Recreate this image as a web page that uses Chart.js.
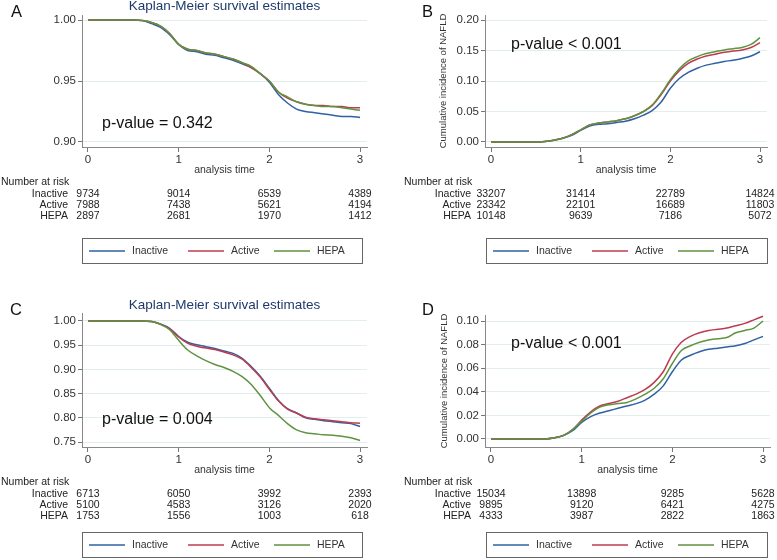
<!DOCTYPE html>
<html>
<head>
<meta charset="utf-8">
<script src="https://cdn.jsdelivr.net/npm/chart.js@4.4.0/dist/chart.umd.min.js"></script>
<style>
  html, body { margin: 0; padding: 0; background: #fff; }
  #wrap { position: relative; width: 777px; height: 560px; }
  canvas { position: absolute; }
</style>
</head>
<body>
<div id="wrap">
  <canvas id="panelA" width="388" height="280" style="left:0;top:0"></canvas>
  <canvas id="panelB" width="389" height="280" style="left:388px;top:0"></canvas>
  <canvas id="panelC" width="388" height="280" style="left:0;top:280px"></canvas>
  <canvas id="panelD" width="389" height="280" style="left:388px;top:280px"></canvas>
</div>
<script>
const TIMES = [0, 0.1, 0.2, 0.3, 0.4, 0.5, 0.6, 0.7, 0.8, 0.9, 1.0, 1.1, 1.2, 1.3, 1.4, 1.5,
  1.6, 1.7, 1.8, 1.9, 2.0, 2.1, 2.2, 2.3, 2.4, 2.5, 2.6, 2.7, 2.8, 2.9, 3.0];
const GROUPS = ['Inactive', 'Active', 'HEPA'];
const X_TICKS = [0, 1, 2, 3];

// A - survival
const A_INACTIVE = [1, 1, 1, 1, 1, 1, 0.9995, 0.997, 0.994, 0.988, 0.980, 0.975, 0.974, 0.972, 0.971, 0.969,
  0.967, 0.964, 0.961, 0.956, 0.949, 0.939, 0.932, 0.927, 0.925, 0.924, 0.923, 0.922, 0.921, 0.921, 0.920];
const A_ACTIVE = [1, 1, 1, 1, 1, 1, 0.9995, 0.998, 0.995, 0.989, 0.980, 0.976, 0.975, 0.973, 0.972, 0.970,
  0.968, 0.965, 0.961, 0.956, 0.950, 0.941, 0.936, 0.933, 0.931, 0.930, 0.930, 0.929, 0.929, 0.928, 0.928];
const A_HEPA = [1, 1, 1, 1, 1, 1, 0.9995, 0.998, 0.995, 0.989, 0.980, 0.976, 0.975, 0.973, 0.972, 0.970,
  0.968, 0.965, 0.962, 0.956, 0.950, 0.941, 0.937, 0.933, 0.931, 0.930, 0.929, 0.929, 0.928, 0.927, 0.926];
const A_RISK = [[9734, 9014, 6539, 4389], [7988, 7438, 5621, 4194], [2897, 2681, 1970, 1412]];

// B - cumulative incidence
const B_INACTIVE = [0, 0, 0, 0, 0, 0, 0.001, 0.003, 0.006, 0.011, 0.019, 0.026, 0.029, 0.030, 0.032, 0.034,
  0.038, 0.044, 0.052, 0.066, 0.088, 0.104, 0.114, 0.121, 0.126, 0.129, 0.132, 0.134, 0.137, 0.141, 0.148];
const B_ACTIVE = [0, 0, 0, 0, 0, 0, 0.001, 0.003, 0.006, 0.012, 0.020, 0.028, 0.031, 0.033, 0.035, 0.038,
  0.043, 0.050, 0.060, 0.078, 0.100, 0.117, 0.129, 0.136, 0.141, 0.144, 0.147, 0.149, 0.151, 0.155, 0.163];
const B_HEPA = [0, 0, 0, 0, 0, 0, 0.001, 0.003, 0.006, 0.012, 0.020, 0.028, 0.031, 0.033, 0.035, 0.038,
  0.043, 0.050, 0.061, 0.080, 0.102, 0.120, 0.133, 0.140, 0.145, 0.148, 0.151, 0.153, 0.155, 0.160, 0.171];
const B_RISK = [[33207, 31414, 22789, 14824], [23342, 22101, 16689, 11803], [10148, 9639, 7186, 5072]];

// C - survival
const C_INACTIVE = [1, 1, 1, 1, 1, 1, 1, 0.999, 0.994, 0.985, 0.968, 0.956, 0.951, 0.947, 0.943, 0.938,
  0.933, 0.923, 0.906, 0.886, 0.861, 0.836, 0.819, 0.810, 0.800, 0.797, 0.794, 0.792, 0.790, 0.788, 0.782];
const C_ACTIVE = [1, 1, 1, 1, 1, 1, 1, 0.999, 0.993, 0.984, 0.967, 0.954, 0.948, 0.944, 0.941, 0.936,
  0.930, 0.921, 0.904, 0.884, 0.859, 0.835, 0.818, 0.810, 0.801, 0.798, 0.796, 0.794, 0.792, 0.790, 0.789];
const C_HEPA = [1, 1, 1, 1, 1, 1, 1, 0.999, 0.993, 0.982, 0.960, 0.940, 0.928, 0.918, 0.910, 0.904,
  0.896, 0.885, 0.869, 0.846, 0.821, 0.805, 0.788, 0.775, 0.769, 0.767, 0.765, 0.764, 0.762, 0.759, 0.753];
const C_RISK = [[6713, 6050, 3992, 2393], [5100, 4583, 3126, 2020], [1753, 1556, 1003, 618]];

// D - cumulative incidence
const D_INACTIVE = [0, 0, 0, 0, 0, 0, 0, 0.001, 0.003, 0.007, 0.014, 0.019, 0.022, 0.024, 0.026, 0.028,
  0.030, 0.033, 0.038, 0.045, 0.057, 0.067, 0.071, 0.074, 0.076, 0.077, 0.078, 0.079, 0.081, 0.084, 0.087];
const D_ACTIVE = [0, 0, 0, 0, 0, 0, 0, 0.001, 0.003, 0.008, 0.016, 0.023, 0.028, 0.030, 0.032, 0.035,
  0.038, 0.042, 0.048, 0.057, 0.072, 0.082, 0.087, 0.090, 0.092, 0.093, 0.094, 0.096, 0.098, 0.101, 0.104];
const D_HEPA = [0, 0, 0, 0, 0, 0, 0, 0.001, 0.003, 0.008, 0.015, 0.022, 0.027, 0.029, 0.030, 0.031,
  0.034, 0.038, 0.043, 0.051, 0.064, 0.075, 0.079, 0.082, 0.084, 0.085, 0.086, 0.090, 0.092, 0.094, 0.100];
const D_RISK = [[15034, 13898, 9285, 5628], [9895, 9120, 6421, 4275], [4333, 3987, 2822, 1863]];

const FONT = "'Liberation Sans', Arial, sans-serif";
const COLORS = ['#2f61a3', '#bd3b4f', '#5f9340'];

// letters, titles, p-values, risk table and legend box
const panelText = {
  id: 'panelText',
  afterDraw(chart, args, o) {
    const ctx = chart.ctx;
    const ca = chart.chartArea;
    const xs = chart.scales.x;
    ctx.save();
    ctx.textBaseline = 'middle';

    ctx.fillStyle = '#111';
    ctx.font = `16.5px ${FONT}`;
    ctx.textAlign = 'left';
    ctx.fillText(o.letter, o.letterX, o.letterY);

    if (o.title) {
      ctx.fillStyle = '#1e3a6b';
      ctx.font = `13.5px ${FONT}`;
      ctx.textAlign = 'center';
      ctx.fillText(o.title, (ca.left + ca.right) / 2, o.titleY);
    }

    ctx.fillStyle = '#111';
    ctx.font = `16px ${FONT}`;
    ctx.textAlign = 'left';
    ctx.fillText(o.pText, o.pX, o.pY);

    if (o.yTitle) {
      ctx.save();
      ctx.translate(o.yTitleX, (ca.top + ca.bottom) / 2);
      ctx.rotate(-Math.PI / 2);
      ctx.font = `9.5px ${FONT}`;
      ctx.fillStyle = '#333';
      ctx.textAlign = 'center';
      ctx.fillText(o.yTitle, 0, 0);
      ctx.restore();
    }

    // number at risk
    const x0 = xs.getPixelForValue(0);
    ctx.font = `10.5px ${FONT}`;
    ctx.fillStyle = '#222';
    ctx.textAlign = 'left';
    ctx.fillText('Number at risk', x0 - 87, o.riskY);
    o.risk.forEach((row, i) => {
      const y = o.riskY + 11.2 * (i + 1);
      ctx.textAlign = 'right';
      ctx.fillText(GROUPS[i], x0 - 20, y);
      ctx.textAlign = 'center';
      row.forEach((n, j) => ctx.fillText(String(n), xs.getPixelForValue(X_TICKS[j]), y));
    });

    // legend box
    const bx = o.legendX, by = o.legendY;
    ctx.strokeStyle = '#666';
    ctx.lineWidth = 1;
    ctx.strokeRect(bx + 0.5, by + 0.5, o.legendW, 25);
    const offs = [7, 106, 192];
    GROUPS.forEach((g, i) => {
      ctx.lineWidth = 1.3;
      ctx.strokeStyle = COLORS[i];
      ctx.beginPath();
      ctx.moveTo(bx + offs[i], by + 13);
      ctx.lineTo(bx + offs[i] + 36, by + 13);
      ctx.stroke();
      ctx.fillStyle = '#333';
      ctx.textAlign = 'left';
      ctx.fillText(g, bx + offs[i] + 43, by + 13.5);
    });
    ctx.restore();
  }
};

function makePanel(id, series, p) {
  return new Chart(document.getElementById(id), {
    type: 'line',
    data: {
      datasets: series.map((s, i) => ({
        label: GROUPS[i],
        data: TIMES.map((t, k) => ({ x: t, y: s[k] })),
        borderColor: COLORS[i],
        borderWidth: 1.5,
        pointRadius: 0,
        cubicInterpolationMode: 'monotone',
        fill: false,
        order: 2 - i
      }))
    },
    options: {
      responsive: false,
      animation: false,
      events: [],
      layout: { padding: p.padding },
      plugins: {
        legend: { display: false },
        title: { display: false },
        tooltip: { enabled: false },
        panelText: p.text
      },
      scales: {
        x: {
          type: 'linear',
          min: p.xMin,
          max: p.xMax,
          afterBuildTicks: s => { s.ticks = X_TICKS.map(v => ({ value: v })); },
          afterFit: s => { s.height = 30; },
          ticks: { color: '#333', font: { family: FONT, size: 11.5 }, padding: 1, maxRotation: 0 },
          grid: { drawOnChartArea: false, tickLength: 5, tickColor: '#777' },
          border: { color: '#888' },
          title: {
            display: true, text: 'analysis time', color: '#333',
            font: { family: FONT, size: 10.5 }, padding: { top: 0, bottom: 1 }
          }
        },
        y: {
          min: p.yMin,
          max: p.yMax,
          afterBuildTicks: s => { s.ticks = p.yTicks.map(v => ({ value: v })); },
          afterFit: s => { s.width = p.yWidth; },
          ticks: { color: '#333', font: { family: FONT, size: 11.5 }, padding: 2, callback: v => v.toFixed(2) },
          grid: { color: '#e2eded', tickLength: 4, tickColor: '#777' },
          border: { color: '#888' }
        }
      }
    },
    plugins: [panelText]
  });
}

makePanel('panelA', [A_INACTIVE, A_ACTIVE, A_HEPA], {
  padding: { left: 0, top: 15, right: 21, bottom: 103 },
  yWidth: 82, xMin: -0.066, xMax: 3.077, yMin: 0.8959, yMax: 1.0041,
  yTicks: [0.90, 0.95, 1.00],
  text: {
    letter: 'A', letterX: 11, letterY: 12,
    title: 'Kaplan-Meier survival estimates', titleY: 6,
    pText: 'p-value = 0.342', pX: 102, pY: 124,
    risk: A_RISK, riskY: 182.5,
    legendX: 82, legendY: 238, legendW: 280
  }
});

makePanel('panelB', [B_INACTIVE, B_ACTIVE, B_HEPA], {
  padding: { left: 0, top: 15, right: 10, bottom: 103 },
  yWidth: 97, xMin: -0.067, xMax: 3.078, yMin: -0.0082, yMax: 0.2082,
  yTicks: [0, 0.05, 0.10, 0.15, 0.20],
  text: {
    letter: 'B', letterX: 34, letterY: 12.5,
    yTitle: 'Cumulative incidence of NAFLD', yTitleX: 55,
    pText: 'p-value < 0.001', pX: 123, pY: 45,
    risk: B_RISK, riskY: 182.5,
    legendX: 98, legendY: 238, legendW: 281
  }
});

makePanel('panelC', [C_INACTIVE, C_ACTIVE, C_HEPA], {
  padding: { left: 0, top: 33, right: 21, bottom: 83 },
  yWidth: 82, xMin: -0.066, xMax: 3.077, yMin: 0.7397, yMax: 1.0165,
  yTicks: [0.75, 0.80, 0.85, 0.90, 0.95, 1.00],
  text: {
    letter: 'C', letterX: 10, letterY: 30,
    title: 'Kaplan-Meier survival estimates', titleY: 25,
    pText: 'p-value = 0.004', pX: 102, pY: 140,
    risk: C_RISK, riskY: 202.5,
    legendX: 82, legendY: 252, legendW: 280
  }
});

makePanel('panelD', [D_INACTIVE, D_ACTIVE, D_HEPA], {
  padding: { left: 0, top: 35, right: 7, bottom: 83 },
  yWidth: 97, xMin: -0.066, xMax: 3.077, yMin: -0.0068, yMax: 0.1051,
  yTicks: [0, 0.02, 0.04, 0.06, 0.08, 0.10],
  text: {
    letter: 'D', letterX: 34, letterY: 30.5,
    yTitle: 'Cumulative incidence of NAFLD', yTitleX: 56,
    pText: 'p-value < 0.001', pX: 123, pY: 63.5,
    risk: D_RISK, riskY: 202.5,
    legendX: 98, legendY: 252, legendW: 281
  }
});
</script>
</body>
</html>
